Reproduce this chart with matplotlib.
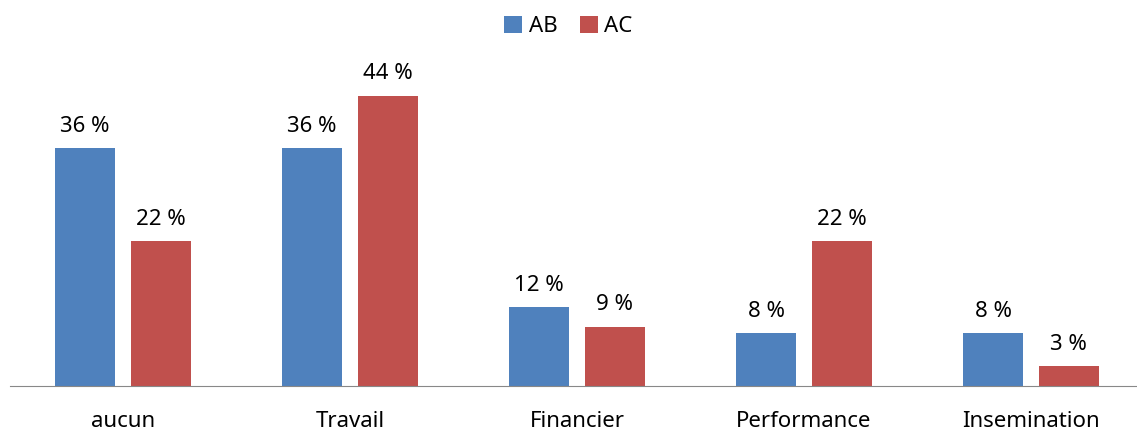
import numpy as np
import matplotlib.pyplot as plt

categories = ["aucun", "Travail", "Financier", "Performance", "Insemination"]
ab_values = [36, 36, 12, 8, 8]
ac_values = [22, 44, 9, 22, 3]
series_names = ["AB", "AC"]
colors = ["#4F81BD", "#C0504D"]

plt.rcParams['font.family'] = ['Noto Sans', 'DejaVu Sans']

fig = plt.figure(figsize=(11.37, 4.36), dpi=100)
ax = fig.add_axes([10 / 1137, 50 / 436, 1 - 10 / 1137, 336 / 436])

x = np.arange(len(categories))
width = 0.264
offset = 0.167

for vals, name, col, sign in zip([ab_values, ac_values], series_names, colors, [-1, 1]):
    bars = ax.bar(x + sign * offset, vals, width, color=col, label=name)
    for b, v in zip(bars, vals):
        ax.annotate(f"{v} %", (b.get_x() + b.get_width() / 2, b.get_height()),
                    xytext=(0, 8), textcoords="offset points",
                    ha="center", va="bottom", fontsize=16)

ax.set_xlim(-0.498, 4.467)
ax.set_ylim(0, 336 / 6.6)
ax.set_xticks(x)
ax.set_xticklabels(categories, fontsize=16)
ax.tick_params(axis="x", length=0, pad=18)
ax.set_yticks([])
for s in ["top", "right", "left"]:
    ax.spines[s].set_visible(False)
ax.spines["bottom"].set_color("#888888")

leg = fig.legend(loc="upper center", bbox_to_anchor=(0.5, 1.01), ncol=2, frameon=False,
                 fontsize=16, handlelength=0.8, handleheight=0.8, handletextpad=0.3,
                 columnspacing=1.0)

fig.savefig("out.png", dpi=100)
